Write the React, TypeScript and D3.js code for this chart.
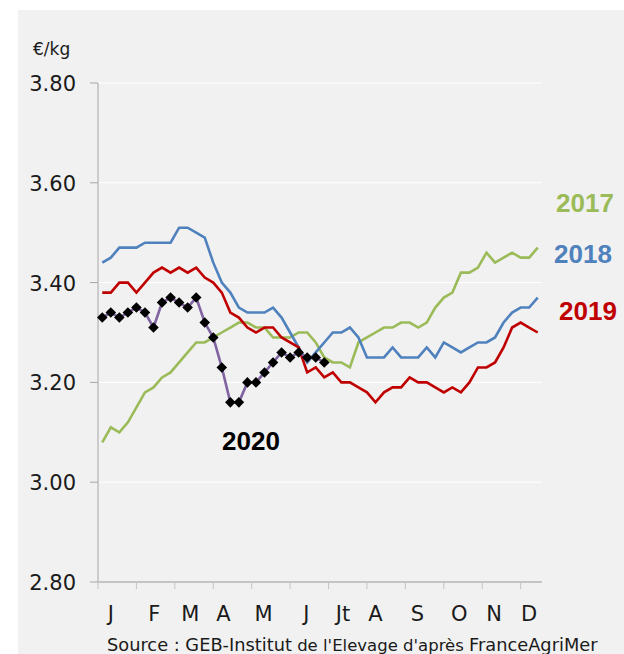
import React, { useRef, useEffect } from "react";
import * as d3 from "d3";

// month labels on the x axis and the week each one sits under
const months = ["J", "F", "M", "A", "M", "J", "Jt", "A", "S", "O", "N", "D"];
const monthWeeks = [1, 6.1, 10.3, 14.2, 18.9, 23.9, 28.2, 32, 36.9, 41.8, 45.9, 50];
const yTicks = [2.8, 3.0, 3.2, 3.4, 3.6, 3.8];

// weekly prices, €/kg
const prices2017 = [
  3.08, 3.11, 3.10, 3.12, 3.15, 3.18, 3.19, 3.21, 3.22, 3.24, 3.26, 3.28, 3.28,
  3.29, 3.30, 3.31, 3.32, 3.32, 3.31, 3.31, 3.29, 3.29, 3.29, 3.30, 3.30, 3.28,
  3.25, 3.24, 3.24, 3.23, 3.28, 3.29, 3.30, 3.31, 3.31, 3.32, 3.32, 3.31, 3.32,
  3.35, 3.37, 3.38, 3.42, 3.42, 3.43, 3.46, 3.44, 3.45, 3.46, 3.45, 3.45, 3.47,
];
const prices2018 = [
  3.44, 3.45, 3.47, 3.47, 3.47, 3.48, 3.48, 3.48, 3.48, 3.51, 3.51, 3.50, 3.49,
  3.44, 3.40, 3.38, 3.35, 3.34, 3.34, 3.34, 3.35, 3.33, 3.30, 3.27, 3.24, 3.26,
  3.28, 3.30, 3.30, 3.31, 3.29, 3.25, 3.25, 3.25, 3.27, 3.25, 3.25, 3.25, 3.27,
  3.25, 3.28, 3.27, 3.26, 3.27, 3.28, 3.28, 3.29, 3.32, 3.34, 3.35, 3.35, 3.37,
];
const prices2019 = [
  3.38, 3.38, 3.40, 3.40, 3.38, 3.40, 3.42, 3.43, 3.42, 3.43, 3.42, 3.43, 3.41,
  3.40, 3.38, 3.34, 3.33, 3.31, 3.30, 3.31, 3.31, 3.29, 3.28, 3.27, 3.22, 3.23,
  3.21, 3.22, 3.20, 3.20, 3.19, 3.18, 3.16, 3.18, 3.19, 3.19, 3.21, 3.20, 3.20,
  3.19, 3.18, 3.19, 3.18, 3.20, 3.23, 3.23, 3.24, 3.27, 3.31, 3.32, 3.31, 3.30,
];
const prices2020 = [
  3.33, 3.34, 3.33, 3.34, 3.35, 3.34, 3.31, 3.36, 3.37, 3.36, 3.35, 3.37, 3.32,
  3.29, 3.23, 3.16, 3.16, 3.20, 3.20, 3.22, 3.24, 3.26, 3.25, 3.26, 3.25, 3.25,
  3.24,
];

const width = 624;
const height = 654;
const font = "'DejaVu Sans', sans-serif";
const boldFont = "'Liberation Sans', Arial, sans-serif";

function PriceChart() {
  const svgRef = useRef<SVGSVGElement>(null);

  const draw = () => {
    const svg = d3.select(svgRef.current);
    svg.selectAll("*").remove();

    const x = d3.scaleLinear().domain([-0.5, 51.5]).range([98, 542]);
    const y = d3.scaleLinear().domain([2.8, 3.8]).range([582, 83]);

    // grey panel
    svg.append("rect")
      .attr("x", 18).attr("y", 10)
      .attr("width", width - 18).attr("height", height - 10)
      .attr("fill", "#f1f1f1");

    // gridlines
    svg.append("g")
      .selectAll("line")
      .data(yTicks.slice(1))
      .join("line")
      .attr("x1", x(-0.5)).attr("x2", x(51.5))
      .attr("y1", d => y(d)).attr("y2", d => y(d))
      .attr("stroke", "#ffffff")
      .attr("stroke-width", 1);

    // y axis
    const yAxis = svg.append("g");
    yAxis.append("line")
      .attr("x1", 98).attr("x2", 98)
      .attr("y1", y(3.8)).attr("y2", y(2.8))
      .attr("stroke", "#a6a6a6");
    yAxis.selectAll("line.tick")
      .data(yTicks)
      .join("line")
      .attr("class", "tick")
      .attr("x1", 90).attr("x2", 98)
      .attr("y1", d => y(d)).attr("y2", d => y(d))
      .attr("stroke", "#a6a6a6");
    yAxis.selectAll("text")
      .data(yTicks)
      .join("text")
      .attr("x", 76)
      .attr("y", d => y(d) + 8)
      .attr("text-anchor", "end")
      .attr("font-family", font)
      .attr("font-size", 21)
      .attr("fill", "#1a1a1a")
      .text(d => d.toFixed(2));

    svg.append("text")
      .attr("x", 33).attr("y", 55)
      .attr("font-family", font)
      .attr("font-size", 17)
      .attr("fill", "#1a1a1a")
      .text("€/kg");

    // x axis
    const xAxis = svg.append("g");
    xAxis.append("line")
      .attr("x1", 98).attr("x2", 542)
      .attr("y1", 582).attr("y2", 582)
      .attr("stroke", "#c4c4c4")
      .attr("stroke-width", 2);
    xAxis.selectAll("line.tick")
      .data(d3.range(-0.5, 50, 4.5))
      .join("line")
      .attr("class", "tick")
      .attr("x1", d => x(d)).attr("x2", d => x(d))
      .attr("y1", 582).attr("y2", 589)
      .attr("stroke", "#c4c4c4");
    xAxis.selectAll("text")
      .data(months)
      .join("text")
      .attr("x", (d, i) => x(monthWeeks[i]))
      .attr("y", 621)
      .attr("text-anchor", "middle")
      .attr("font-family", font)
      .attr("font-size", 21)
      .attr("fill", "#1a1a1a")
      .text(d => d);

    const line = d3.line<number>()
      .x((d, i) => x(i))
      .y(d => y(d));

    const series = [
      { values: prices2017, color: "#9bbb59" },
      { values: prices2018, color: "#4f81bd" },
      { values: prices2019, color: "#c00000" },
      { values: prices2020, color: "#8064a2" },
    ];

    svg.append("g")
      .selectAll("path")
      .data(series)
      .join("path")
      .attr("d", d => line(d.values))
      .attr("fill", "none")
      .attr("stroke", d => d.color)
      .attr("stroke-width", 2.6)
      .attr("stroke-linejoin", "miter");

    // 2020 markers
    const diamond = d3.symbol(d3.symbolSquare, 56);
    svg.append("g")
      .selectAll("path")
      .data(prices2020)
      .join("path")
      .attr("d", diamond)
      .attr("transform", (d, i) => `translate(${x(i)},${y(d)}) rotate(45)`)
      .attr("fill", "#000000");

    // series labels
    const labels = [
      { text: "2017", x: 585, y: 212, color: "#9bbb59" },
      { text: "2018", x: 583, y: 263, color: "#4f81bd" },
      { text: "2019", x: 588, y: 320, color: "#c00000" },
      { text: "2020", x: 251, y: 450, color: "#000000" },
    ];
    svg.append("g")
      .selectAll("text")
      .data(labels)
      .join("text")
      .attr("x", d => d.x).attr("y", d => d.y)
      .attr("text-anchor", "middle")
      .attr("font-family", boldFont)
      .attr("font-weight", "bold")
      .attr("font-size", 26)
      .attr("fill", d => d.color)
      .text(d => d.text);

    // source
    const src = svg.append("text")
      .attr("x", 107).attr("y", 651)
      .attr("font-family", font)
      .attr("font-size", 17.8)
      .attr("fill", "#1a1a1a");
    src.append("tspan").text("Source : GEB-Institut");
    src.append("tspan").attr("font-size", 16.5).text(" de l'Elevage d'après ");
    src.append("tspan").text("FranceAgriMer");
  };

  useEffect(() => {
    draw();
  });

  return (
    <svg
      ref={svgRef}
      width={width}
      height={height}
      style={{ position: "absolute", left: 0, top: 0, background: "#ffffff" }}
    ></svg>
  );
}

export default function App() {
  return <PriceChart />;
}
